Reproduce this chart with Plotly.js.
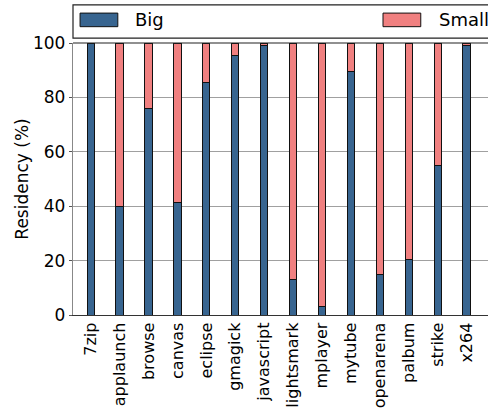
<!DOCTYPE html>
<html>
<head>
<meta charset="utf-8">
<script src="https://cdn.plot.ly/plotly-3.0.1.min.js"></script>
<style>
  html, body { margin: 0; padding: 0; background: #fff; overflow: hidden; }
  #chart { width: 488px; height: 409px; }
</style>
</head>
<body>
<div id="chart"></div>
<script>
// Per-benchmark share of time spent on big vs small cores
const benchmarks = ["7zip", "applaunch", "browse", "canvas", "eclipse", "gmagick", "javascript",
                    "lightsmark", "mplayer", "mytube", "openarena", "palbum", "strike", "x264"];
const bigShare   = [100, 40, 76, 41.2, 85.4, 95.3, 98.9, 13.1, 3.0, 89.7, 15.0, 20.3, 54.9, 99.0];
const smallShare = bigShare.map(v => +(100 - v).toFixed(1));
const seriesNames = ["Big", "Small"];
const yTicks = [0, 20, 40, 60, 80, 100];

const BIG_COLOR = "#386590";
const SMALL_COLOR = "#f08080";
const FONT = "DejaVu Sans, sans-serif";

const traces = [
  { type: "bar", name: seriesNames[0], x: benchmarks, y: bigShare, width: 0.25,
    marker: { color: BIG_COLOR, line: { color: "#111", width: 1 } }, showlegend: false },
  { type: "bar", name: seriesNames[1], x: benchmarks, y: smallShare, width: 0.25,
    marker: { color: SMALL_COLOR, line: { color: "#111", width: 1 } }, showlegend: false }
];

// Legend drawn as a full-width framed strip above the plot
const legendShapes = [
  { type: "rect", xref: "paper", yref: "paper", x0: 0, x1: 1.05, y0: 1.018, y1: 1.140,
    line: { color: "#222", width: 1.2 }, fillcolor: "#fff" },
  { type: "rect", xref: "paper", yref: "paper", x0: 0.017, x1: 0.108, y0: 1.060, y1: 1.110,
    line: { color: "#111", width: 1 }, fillcolor: BIG_COLOR },
  { type: "rect", xref: "paper", yref: "paper", x0: 0.747, x1: 0.838, y0: 1.060, y1: 1.110,
    line: { color: "#111", width: 1 }, fillcolor: SMALL_COLOR },
  // top frame line of the axes
  { type: "line", xref: "paper", yref: "paper", x0: 0, x1: 1, y0: 1, y1: 1,
    line: { color: "#222", width: 1.2 } }
];

const legendText = [
  { xref: "paper", yref: "paper", x: 0.145, y: 1.085, xanchor: "left", yanchor: "middle",
    text: seriesNames[0], showarrow: false, font: { family: FONT, size: 18, color: "#000" } },
  { xref: "paper", yref: "paper", x: 0.876, y: 1.085, xanchor: "left", yanchor: "middle",
    text: seriesNames[1], showarrow: false, font: { family: FONT, size: 18, color: "#000" } }
];

const layout = {
  width: 488, height: 409,
  margin: { l: 73, r: 0, t: 43, b: 94, pad: 0 },
  paper_bgcolor: "#fff", plot_bgcolor: "#fff",
  barmode: "stack",
  font: { family: FONT, size: 17, color: "#000" },
  xaxis: {
    type: "category", range: [-0.61, 13.74],
    tickangle: -90, tickfont: { family: FONT, size: 16 },
    showline: true, linecolor: "#333", linewidth: 1.2,
    showgrid: false, ticks: "", zeroline: false, fixedrange: true
  },
  yaxis: {
    range: [0, 100], tickvals: yTicks, ticktext: yTicks.map(String),
    tickfont: { family: FONT, size: 17 },
    title: { text: "Residency (%)", font: { family: FONT, size: 17 }, standoff: 0 },
    showline: true, linecolor: "#888", linewidth: 1.2,
    ticks: "outside", ticklen: 3, tickcolor: "#555",
    showgrid: true, gridcolor: "#a0a0a0", gridwidth: 1, zeroline: false, fixedrange: true
  },
  shapes: legendShapes,
  annotations: legendText
};

Plotly.newPlot("chart", traces, layout, { displayModeBar: false, staticPlot: true });
</script>
</body>
</html>
